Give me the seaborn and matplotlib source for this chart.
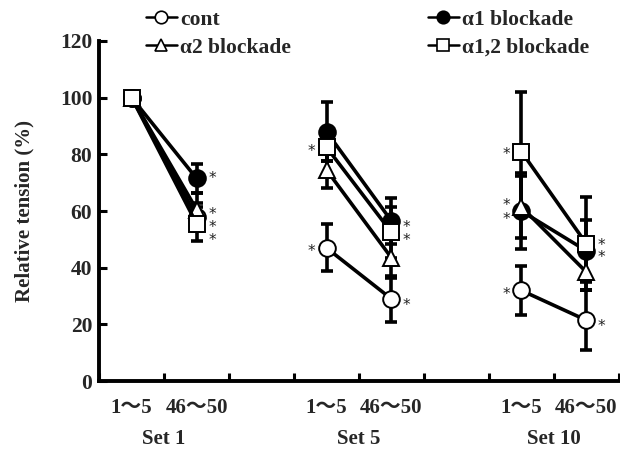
import numpy as np
import pandas as pd
import matplotlib
matplotlib.use("Agg")
import matplotlib.pyplot as plt
import matplotlib.transforms as mtransforms
from matplotlib.lines import Line2D
import seaborn as sns

# ---------------- data ----------------
sets = ["Set 1", "Set 5", "Set 10"]
phases = ["1～5", "46～50"]
series_names = ["cont", "α1 blockade", "α2 blockade", "α1,2 blockade"]

# values in order: Set1 1~5, Set1 46~50, Set5 1~5, Set5 46~50, Set10 1~5, Set10 46~50
cont_mean = [100, 58, 47, 29, 32, 21.5]
cont_err = [0, 5, 8.3, 8, 8.5, 10.5]
a1_mean = [100, 71.5, 88, 56.5, 60, 46]
a1_err = [0, 5, 10.5, 8, 13.5, 11]
a2_mean = [100, 60.5, 74.5, 43.5, 61.5, 38.5]
a2_err = [0, 6, 6.5, 7, 11, 6.5]
a12_mean = [100, 55.5, 82.5, 52.5, 81, 48.5]
a12_err = [0, 6, 5, 9, 21, 16.5]

# significance asterisks: (set index, phase index, y value, side)
asterisks = [
    (0, 1, 72.8, "r"), (0, 1, 60.4, "r"), (0, 1, 55.6, "r"), (0, 1, 51.2, "r"),
    (1, 0, 82.4, "l"), (1, 0, 47.1, "l"),
    (1, 1, 55.6, "r"), (1, 1, 51.2, "r"), (1, 1, 28.3, "r"),
    (2, 0, 81.3, "l"), (2, 0, 63.6, "l"), (2, 0, 58.6, "l"), (2, 0, 32.0, "l"),
    (2, 1, 49.4, "r"), (2, 1, 45.0, "r"), (2, 1, 20.8, "r"),
]

means = [cont_mean, a1_mean, a2_mean, a12_mean]
errs = [cont_err, a1_err, a2_err, a12_err]
markers = ["o", "o", "^", "s"]
faces = ["white", "black", "white", "white"]
msizes = [12, 12, 12, 11]
zorders = [4, 3, 5, 6]

rows = []
for si, name in enumerate(series_names):
    for k in range(6):
        set_i, ph_i = divmod(k, 2)
        rows.append(dict(series=name, set=sets[set_i], phase=phases[ph_i],
                         xpos=set_i * 3 + ph_i + 0.5,
                         value=means[si][k], err=errs[si][k]))
df = pd.DataFrame(rows)

# ---------------- plot ----------------
sns.set_theme(style="ticks")
plt.rcParams["font.family"] = ["Liberation Serif", "Noto Sans CJK JP", "DejaVu Sans"]
plt.rcParams["font.weight"] = "bold"

fig = plt.figure(figsize=(6.2, 4.5), dpi=100)
ax = fig.add_axes([0.16, 0.153, 0.838, 0.756])

for si, name in enumerate(series_names):
    sub = df[df.series == name]
    nonzero = sub[sub.err > 0]
    ax.errorbar(nonzero.xpos, nonzero.value, yerr=nonzero.err, fmt="none",
                ecolor="black", elinewidth=2.6, capsize=4, capthick=2.6,
                zorder=2)
    for s in sets:
        seg = sub[sub.set == s]
        sns.lineplot(data=seg, x="xpos", y="value", ax=ax, color="black",
                     lw=2.6, marker=markers[si], markersize=msizes[si],
                     markerfacecolor=faces[si], markeredgecolor="black",
                     markeredgewidth=1.4, zorder=zorders[si], legend=False,
                     estimator=None, sort=False)

for set_i, ph_i, yv, side in asterisks:
    x = set_i * 3 + ph_i + 0.5
    off = 11 if side == "r" else -11
    ax.annotate("*", (x, yv), xytext=(off, -3), textcoords="offset points",
                ha="center", va="center", fontsize=11, fontweight="normal",
                family="DejaVu Sans", color="#222222")

ax.set_xlim(0, 8)
ax.set_ylim(0, 120)
ax.set_xticks(np.arange(0, 9))
ax.set_xticklabels([])
ax.set_yticks(np.arange(0, 121, 20))
ax.set_yticklabels([str(v) for v in range(0, 121, 20)], fontsize=15.5, fontweight="bold")
ax.tick_params(axis="both", direction="in", length=6, width=2.2, color="black")
ax.tick_params(axis="y", pad=5)
ax.tick_params(axis="x", pad=4)
for sp in ["top", "right"]:
    ax.spines[sp].set_visible(False)
for sp in ["left", "bottom"]:
    ax.spines[sp].set_linewidth(2.8)
    ax.spines[sp].set_color("black")
ax.set_xlabel("")
ax.set_ylabel("Relative tension (%)", fontsize=15, fontweight="bold", labelpad=18)

trans = mtransforms.blended_transform_factory(ax.transData, ax.transAxes)
for set_i, s in enumerate(sets):
    for ph_i, p in enumerate(phases):
        ax.text(set_i * 3 + ph_i + 0.5, -0.08, p, transform=trans, ha="center",
                va="center", fontsize=15, fontweight="bold")
    ax.text(set_i * 3 + 1, -0.17, s, transform=trans, ha="center", va="center",
            fontsize=15, fontweight="bold")

handles = []
for si, name in enumerate(series_names):
    handles.append(Line2D([0], [0], color="black", lw=1.8, marker=markers[si],
                          markersize=9, markerfacecolor=faces[si],
                          markeredgecolor="black", markeredgewidth=1.2))
order = [0, 2, 1, 3]
fig.legend([handles[i] for i in order], [series_names[i] for i in order],
           ncol=2, loc="center", bbox_to_anchor=(0.593, 0.925), frameon=False,
           handlelength=1.4, handletextpad=0.15, columnspacing=6.4,
           labelspacing=0.35, prop=dict(size=15.5, weight="bold"))

fig.savefig("out.png", dpi=100)
